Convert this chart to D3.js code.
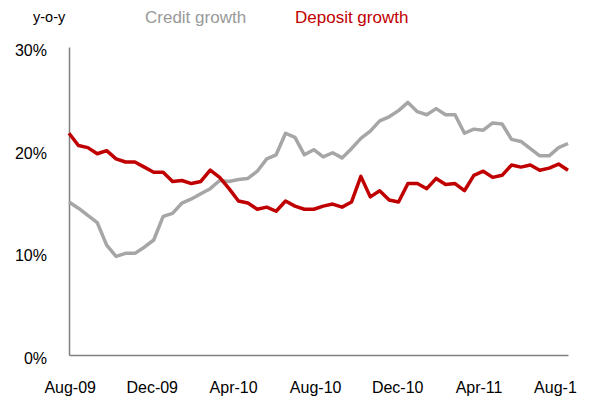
<!DOCTYPE html>
<html lang="en">
<head>
  <meta charset="UTF-8">
  <title>Credit vs deposit growth</title>
  <script src="https://d3js.org/d3.v7.min.js"></script>
  <style>
    html, body {
      margin: 0;
      padding: 0;
      background: #fff;
      font-family: 'Liberation Sans', Arial, sans-serif;
    }
    svg { display: block; }
    .axis path { stroke: #808080; stroke-width: 1.5px; }
    .axis text { fill: #000; font-size: 16px; font-family: 'Liberation Sans', Arial, sans-serif; }
  </style>
</head>
<body>
<svg id="chart"></svg>
<script>
  // fortnightly reporting dates, first and last point
  const firstDate = "2009-07-31";
  const lastDate = "2011-08-12";
  const pointCount = 54;

  // y-o-y growth, %
  const creditGrowth = [
    14.9, 14.3, 13.6, 12.9, 10.7, 9.6, 9.9, 9.9, 10.5, 11.2,
    13.5, 13.8, 14.8, 15.2, 15.7, 16.2, 17.0, 16.9, 17.1, 17.2,
    17.9, 19.1, 19.5, 21.6, 21.2, 19.5, 20.0, 19.3, 19.7, 19.2,
    20.1, 21.1, 21.8, 22.8, 23.2, 23.8, 24.6, 23.7, 23.4, 24.0,
    23.4, 23.4, 21.6, 22.0, 21.9, 22.6, 22.5, 21.0, 20.8, 20.1,
    19.4, 19.4, 20.2, 20.6
  ];
  const depositGrowth = [
    21.6, 20.4, 20.2, 19.6, 19.9, 19.1, 18.8, 18.8, 18.3, 17.8,
    17.8, 16.9, 17.0, 16.7, 16.9, 18.0, 17.3, 16.2, 15.0, 14.8,
    14.2, 14.4, 14.0, 15.0, 14.5, 14.2, 14.2, 14.5, 14.7, 14.4,
    14.9, 17.4, 15.4, 16.0, 15.1, 14.9, 16.7, 16.7, 16.2, 17.2,
    16.6, 16.7, 16.0, 17.5, 17.9, 17.3, 17.5, 18.5, 18.3, 18.5,
    18.0, 18.2, 18.6, 18.0
  ];
  const tickDates = ["2009-08-01", "2009-12-01", "2010-04-01", "2010-08-01", "2010-12-01", "2011-04-01", "2011-08-01"];
  // last label is cut short in the original
  const tickLabels = ["Aug-09", "Dec-09", "Apr-10", "Aug-10", "Dec-10", "Apr-11", "Aug-1"];
  const yTicks = [0, 10, 20, 30];

  const width = 592, height = 401;
  const margin = { top: 47, right: 24, bottom: 46, left: 69 };

  const parse = d3.timeParse("%Y-%m-%d");
  const start = parse(firstDate);
  const dates = d3.range(pointCount).map(i => d3.timeDay.offset(start, 14 * i));

  const svg = d3.select("#chart").attr("width", width).attr("height", height);

  const x = d3.scaleTime()
    .domain([start, parse(lastDate)])
    .range([margin.left, width - margin.right]);
  const y = d3.scaleLinear()
    .domain([0, 30])
    .range([height - margin.bottom, margin.top]);

  const xAxis = d3.axisBottom(x)
    .tickValues(tickDates.map(parse))
    .tickFormat((d, i) => tickLabels[i])
    .tickSize(0)
    .tickPadding(0);
  const gx = svg.append("g").attr("class", "axis")
    .attr("transform", `translate(0,${y(0)})`)
    .call(xAxis);
  gx.selectAll("text").attr("y", 38).attr("dy", 0);
  gx.selectAll(".tick:last-of-type text").attr("text-anchor", "start").attr("dx", -27);

  const yAxis = d3.axisLeft(y)
    .tickValues(yTicks)
    .tickFormat(d => d + "%")
    .tickSize(0)
    .tickPadding(22);
  const gy = svg.append("g").attr("class", "axis")
    .attr("transform", `translate(${margin.left},0)`)
    .call(yAxis);
  gy.selectAll("text").attr("dy", "0.85em").attr("y", -5);

  const line = d3.line()
    .x((d, i) => x(dates[i]))
    .y(d => y(d));

  svg.append("path").datum(creditGrowth)
    .attr("fill", "none").attr("stroke", "#a6a6a6")
    .attr("stroke-width", 3.5).attr("stroke-linejoin", "round")
    .attr("d", line);

  svg.append("path").datum(depositGrowth)
    .attr("fill", "none").attr("stroke", "#c00000")
    .attr("stroke-width", 3.5).attr("stroke-linejoin", "round")
    .attr("d", line);

  // legend
  const legend = svg.append("g").attr("font-size", 17);
  legend.append("text").attr("x", 33).attr("y", 22).attr("font-size", 14.5)
    .attr("fill", "#000").text("y-o-y");
  legend.append("text").attr("x", 145).attr("y", 23)
    .attr("fill", "#999").text("Credit growth");
  legend.append("text").attr("x", 295).attr("y", 23)
    .attr("fill", "#c00000").text("Deposit growth");
</script>
</body>
</html>
